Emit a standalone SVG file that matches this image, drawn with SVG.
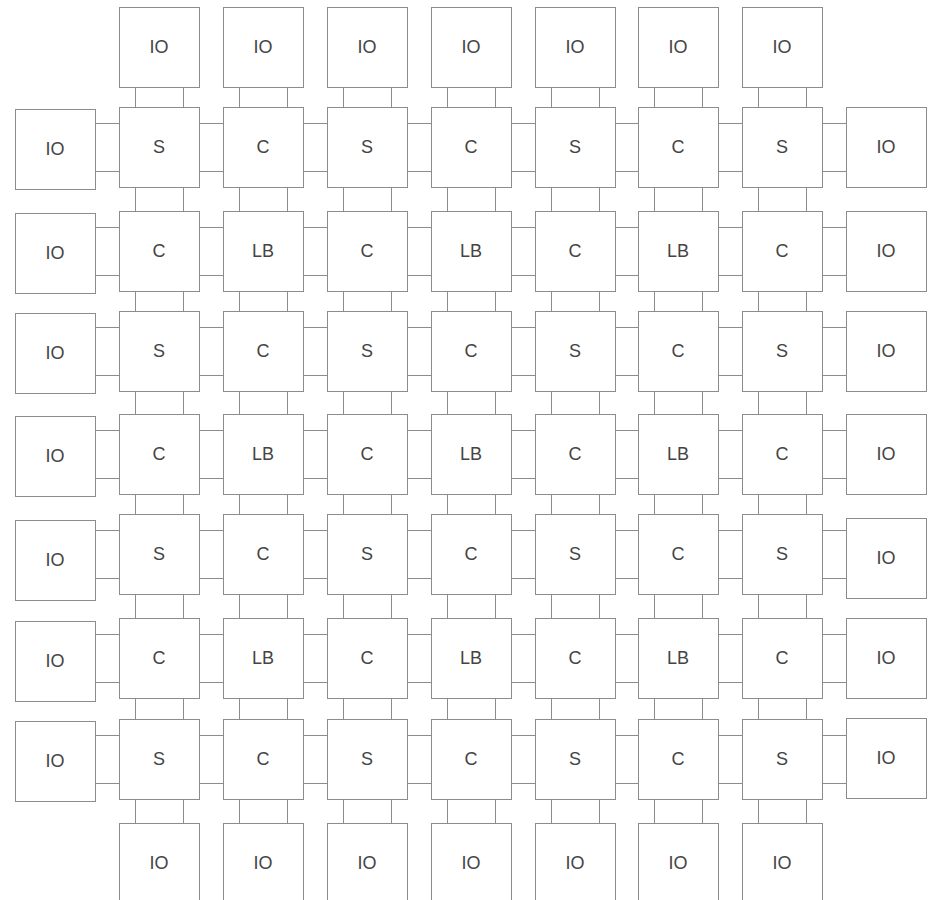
<svg xmlns="http://www.w3.org/2000/svg" width="932" height="900" viewBox="0 0 932 900">
<style>
.n rect{fill:#fff;stroke:#8c8c8c;stroke-width:1}
.n text{font-family:"Liberation Sans",Arial,Helvetica,sans-serif;font-size:18px;fill:#444;text-anchor:middle}
#connectors path{fill:none;stroke:#8c8c8c;stroke-width:1}
</style>
<rect width="932" height="900" fill="#fff"/>
<g id="connectors">
<path d="M95 123.5H119M95 171.5H119M199 123.5H223M199 171.5H223M303 123.5H327M303 171.5H327M407 123.5H431M407 171.5H431M511 123.5H535M511 171.5H535M615 123.5H638M615 171.5H638M718 123.5H742M718 171.5H742M822 123.5H846M822 171.5H846"/>
<path d="M95 227.5H119M95 275.5H119M199 227.5H223M199 275.5H223M303 227.5H327M303 275.5H327M407 227.5H431M407 275.5H431M511 227.5H535M511 275.5H535M615 227.5H638M615 275.5H638M718 227.5H742M718 275.5H742M822 227.5H846M822 275.5H846"/>
<path d="M95 327.5H119M95 375.5H119M199 327.5H223M199 375.5H223M303 327.5H327M303 375.5H327M407 327.5H431M407 375.5H431M511 327.5H535M511 375.5H535M615 327.5H638M615 375.5H638M718 327.5H742M718 375.5H742M822 327.5H846M822 375.5H846"/>
<path d="M95 430.5H119M95 478.5H119M199 430.5H223M199 478.5H223M303 430.5H327M303 478.5H327M407 430.5H431M407 478.5H431M511 430.5H535M511 478.5H535M615 430.5H638M615 478.5H638M718 430.5H742M718 478.5H742M822 430.5H846M822 478.5H846"/>
<path d="M95 530.5H119M95 578.5H119M199 530.5H223M199 578.5H223M303 530.5H327M303 578.5H327M407 530.5H431M407 578.5H431M511 530.5H535M511 578.5H535M615 530.5H638M615 578.5H638M718 530.5H742M718 578.5H742M822 530.5H846M822 578.5H846"/>
<path d="M95 634.5H119M95 682.5H119M199 634.5H223M199 682.5H223M303 634.5H327M303 682.5H327M407 634.5H431M407 682.5H431M511 634.5H535M511 682.5H535M615 634.5H638M615 682.5H638M718 634.5H742M718 682.5H742M822 634.5H846M822 682.5H846"/>
<path d="M95 735.5H119M95 783.5H119M199 735.5H223M199 783.5H223M303 735.5H327M303 783.5H327M407 735.5H431M407 783.5H431M511 735.5H535M511 783.5H535M615 735.5H638M615 783.5H638M718 735.5H742M718 783.5H742M822 735.5H846M822 783.5H846"/>
<path d="M135.5 87V107M183.5 87V107M135.5 187V211M183.5 187V211M135.5 291V311M183.5 291V311M135.5 391V414M183.5 391V414M135.5 494V514M183.5 494V514M135.5 594V618M183.5 594V618M135.5 698V719M183.5 698V719M135.5 799V823M183.5 799V823"/>
<path d="M239.5 87V107M287.5 87V107M239.5 187V211M287.5 187V211M239.5 291V311M287.5 291V311M239.5 391V414M287.5 391V414M239.5 494V514M287.5 494V514M239.5 594V618M287.5 594V618M239.5 698V719M287.5 698V719M239.5 799V823M287.5 799V823"/>
<path d="M343.5 87V107M391.5 87V107M343.5 187V211M391.5 187V211M343.5 291V311M391.5 291V311M343.5 391V414M391.5 391V414M343.5 494V514M391.5 494V514M343.5 594V618M391.5 594V618M343.5 698V719M391.5 698V719M343.5 799V823M391.5 799V823"/>
<path d="M447.5 87V107M495.5 87V107M447.5 187V211M495.5 187V211M447.5 291V311M495.5 291V311M447.5 391V414M495.5 391V414M447.5 494V514M495.5 494V514M447.5 594V618M495.5 594V618M447.5 698V719M495.5 698V719M447.5 799V823M495.5 799V823"/>
<path d="M551.5 87V107M599.5 87V107M551.5 187V211M599.5 187V211M551.5 291V311M599.5 291V311M551.5 391V414M599.5 391V414M551.5 494V514M599.5 494V514M551.5 594V618M599.5 594V618M551.5 698V719M599.5 698V719M551.5 799V823M599.5 799V823"/>
<path d="M654.5 87V107M702.5 87V107M654.5 187V211M702.5 187V211M654.5 291V311M702.5 291V311M654.5 391V414M702.5 391V414M654.5 494V514M702.5 494V514M654.5 594V618M702.5 594V618M654.5 698V719M702.5 698V719M654.5 799V823M702.5 799V823"/>
<path d="M758.5 87V107M806.5 87V107M758.5 187V211M806.5 187V211M758.5 291V311M806.5 291V311M758.5 391V414M806.5 391V414M758.5 494V514M806.5 494V514M758.5 594V618M806.5 594V618M758.5 698V719M806.5 698V719M758.5 799V823M806.5 799V823"/>
</g>
<g id="io-top-1" class="n"><rect x="119.5" y="7.5" width="80" height="80"/><text x="159" y="53">IO</text></g>
<g id="io-top-2" class="n"><rect x="223.5" y="7.5" width="80" height="80"/><text x="263" y="53">IO</text></g>
<g id="io-top-3" class="n"><rect x="327.5" y="7.5" width="80" height="80"/><text x="367" y="53">IO</text></g>
<g id="io-top-4" class="n"><rect x="431.5" y="7.5" width="80" height="80"/><text x="471" y="53">IO</text></g>
<g id="io-top-5" class="n"><rect x="535.5" y="7.5" width="80" height="80"/><text x="575" y="53">IO</text></g>
<g id="io-top-6" class="n"><rect x="638.5" y="7.5" width="80" height="80"/><text x="678" y="53">IO</text></g>
<g id="io-top-7" class="n"><rect x="742.5" y="7.5" width="80" height="80"/><text x="782" y="53">IO</text></g>
<g id="io-left-1" class="n"><rect x="15.5" y="109.5" width="80" height="80"/><text x="55" y="155">IO</text></g>
<g id="io-left-2" class="n"><rect x="15.5" y="213.5" width="80" height="80"/><text x="55" y="259">IO</text></g>
<g id="io-left-3" class="n"><rect x="15.5" y="313.5" width="80" height="80"/><text x="55" y="359">IO</text></g>
<g id="io-left-4" class="n"><rect x="15.5" y="416.5" width="80" height="80"/><text x="55" y="462">IO</text></g>
<g id="io-left-5" class="n"><rect x="15.5" y="520.5" width="80" height="80"/><text x="55" y="566">IO</text></g>
<g id="io-left-6" class="n"><rect x="15.5" y="621.5" width="80" height="80"/><text x="55" y="667">IO</text></g>
<g id="io-left-7" class="n"><rect x="15.5" y="721.5" width="80" height="80"/><text x="55" y="767">IO</text></g>
<g id="io-right-1" class="n"><rect x="846.5" y="107.5" width="80" height="80"/><text x="886" y="153">IO</text></g>
<g id="io-right-2" class="n"><rect x="846.5" y="211.5" width="80" height="80"/><text x="886" y="257">IO</text></g>
<g id="io-right-3" class="n"><rect x="846.5" y="311.5" width="80" height="80"/><text x="886" y="357">IO</text></g>
<g id="io-right-4" class="n"><rect x="846.5" y="414.5" width="80" height="80"/><text x="886" y="460">IO</text></g>
<g id="io-right-5" class="n"><rect x="846.5" y="518.5" width="80" height="80"/><text x="886" y="564">IO</text></g>
<g id="io-right-6" class="n"><rect x="846.5" y="618.5" width="80" height="80"/><text x="886" y="664">IO</text></g>
<g id="io-right-7" class="n"><rect x="846.5" y="718.5" width="80" height="80"/><text x="886" y="764">IO</text></g>
<g id="io-bottom-1" class="n"><rect x="119.5" y="823.5" width="80" height="80"/><text x="159" y="869">IO</text></g>
<g id="io-bottom-2" class="n"><rect x="223.5" y="823.5" width="80" height="80"/><text x="263" y="869">IO</text></g>
<g id="io-bottom-3" class="n"><rect x="327.5" y="823.5" width="80" height="80"/><text x="367" y="869">IO</text></g>
<g id="io-bottom-4" class="n"><rect x="431.5" y="823.5" width="80" height="80"/><text x="471" y="869">IO</text></g>
<g id="io-bottom-5" class="n"><rect x="535.5" y="823.5" width="80" height="80"/><text x="575" y="869">IO</text></g>
<g id="io-bottom-6" class="n"><rect x="638.5" y="823.5" width="80" height="80"/><text x="678" y="869">IO</text></g>
<g id="io-bottom-7" class="n"><rect x="742.5" y="823.5" width="80" height="80"/><text x="782" y="869">IO</text></g>
<g id="r1c1" class="n"><rect x="119.5" y="107.5" width="80" height="80"/><text x="159" y="153">S</text></g>
<g id="r1c2" class="n"><rect x="223.5" y="107.5" width="80" height="80"/><text x="263" y="153">C</text></g>
<g id="r1c3" class="n"><rect x="327.5" y="107.5" width="80" height="80"/><text x="367" y="153">S</text></g>
<g id="r1c4" class="n"><rect x="431.5" y="107.5" width="80" height="80"/><text x="471" y="153">C</text></g>
<g id="r1c5" class="n"><rect x="535.5" y="107.5" width="80" height="80"/><text x="575" y="153">S</text></g>
<g id="r1c6" class="n"><rect x="638.5" y="107.5" width="80" height="80"/><text x="678" y="153">C</text></g>
<g id="r1c7" class="n"><rect x="742.5" y="107.5" width="80" height="80"/><text x="782" y="153">S</text></g>
<g id="r2c1" class="n"><rect x="119.5" y="211.5" width="80" height="80"/><text x="159" y="257">C</text></g>
<g id="r2c2" class="n"><rect x="223.5" y="211.5" width="80" height="80"/><text x="263" y="257">LB</text></g>
<g id="r2c3" class="n"><rect x="327.5" y="211.5" width="80" height="80"/><text x="367" y="257">C</text></g>
<g id="r2c4" class="n"><rect x="431.5" y="211.5" width="80" height="80"/><text x="471" y="257">LB</text></g>
<g id="r2c5" class="n"><rect x="535.5" y="211.5" width="80" height="80"/><text x="575" y="257">C</text></g>
<g id="r2c6" class="n"><rect x="638.5" y="211.5" width="80" height="80"/><text x="678" y="257">LB</text></g>
<g id="r2c7" class="n"><rect x="742.5" y="211.5" width="80" height="80"/><text x="782" y="257">C</text></g>
<g id="r3c1" class="n"><rect x="119.5" y="311.5" width="80" height="80"/><text x="159" y="357">S</text></g>
<g id="r3c2" class="n"><rect x="223.5" y="311.5" width="80" height="80"/><text x="263" y="357">C</text></g>
<g id="r3c3" class="n"><rect x="327.5" y="311.5" width="80" height="80"/><text x="367" y="357">S</text></g>
<g id="r3c4" class="n"><rect x="431.5" y="311.5" width="80" height="80"/><text x="471" y="357">C</text></g>
<g id="r3c5" class="n"><rect x="535.5" y="311.5" width="80" height="80"/><text x="575" y="357">S</text></g>
<g id="r3c6" class="n"><rect x="638.5" y="311.5" width="80" height="80"/><text x="678" y="357">C</text></g>
<g id="r3c7" class="n"><rect x="742.5" y="311.5" width="80" height="80"/><text x="782" y="357">S</text></g>
<g id="r4c1" class="n"><rect x="119.5" y="414.5" width="80" height="80"/><text x="159" y="460">C</text></g>
<g id="r4c2" class="n"><rect x="223.5" y="414.5" width="80" height="80"/><text x="263" y="460">LB</text></g>
<g id="r4c3" class="n"><rect x="327.5" y="414.5" width="80" height="80"/><text x="367" y="460">C</text></g>
<g id="r4c4" class="n"><rect x="431.5" y="414.5" width="80" height="80"/><text x="471" y="460">LB</text></g>
<g id="r4c5" class="n"><rect x="535.5" y="414.5" width="80" height="80"/><text x="575" y="460">C</text></g>
<g id="r4c6" class="n"><rect x="638.5" y="414.5" width="80" height="80"/><text x="678" y="460">LB</text></g>
<g id="r4c7" class="n"><rect x="742.5" y="414.5" width="80" height="80"/><text x="782" y="460">C</text></g>
<g id="r5c1" class="n"><rect x="119.5" y="514.5" width="80" height="80"/><text x="159" y="560">S</text></g>
<g id="r5c2" class="n"><rect x="223.5" y="514.5" width="80" height="80"/><text x="263" y="560">C</text></g>
<g id="r5c3" class="n"><rect x="327.5" y="514.5" width="80" height="80"/><text x="367" y="560">S</text></g>
<g id="r5c4" class="n"><rect x="431.5" y="514.5" width="80" height="80"/><text x="471" y="560">C</text></g>
<g id="r5c5" class="n"><rect x="535.5" y="514.5" width="80" height="80"/><text x="575" y="560">S</text></g>
<g id="r5c6" class="n"><rect x="638.5" y="514.5" width="80" height="80"/><text x="678" y="560">C</text></g>
<g id="r5c7" class="n"><rect x="742.5" y="514.5" width="80" height="80"/><text x="782" y="560">S</text></g>
<g id="r6c1" class="n"><rect x="119.5" y="618.5" width="80" height="80"/><text x="159" y="664">C</text></g>
<g id="r6c2" class="n"><rect x="223.5" y="618.5" width="80" height="80"/><text x="263" y="664">LB</text></g>
<g id="r6c3" class="n"><rect x="327.5" y="618.5" width="80" height="80"/><text x="367" y="664">C</text></g>
<g id="r6c4" class="n"><rect x="431.5" y="618.5" width="80" height="80"/><text x="471" y="664">LB</text></g>
<g id="r6c5" class="n"><rect x="535.5" y="618.5" width="80" height="80"/><text x="575" y="664">C</text></g>
<g id="r6c6" class="n"><rect x="638.5" y="618.5" width="80" height="80"/><text x="678" y="664">LB</text></g>
<g id="r6c7" class="n"><rect x="742.5" y="618.5" width="80" height="80"/><text x="782" y="664">C</text></g>
<g id="r7c1" class="n"><rect x="119.5" y="719.5" width="80" height="80"/><text x="159" y="765">S</text></g>
<g id="r7c2" class="n"><rect x="223.5" y="719.5" width="80" height="80"/><text x="263" y="765">C</text></g>
<g id="r7c3" class="n"><rect x="327.5" y="719.5" width="80" height="80"/><text x="367" y="765">S</text></g>
<g id="r7c4" class="n"><rect x="431.5" y="719.5" width="80" height="80"/><text x="471" y="765">C</text></g>
<g id="r7c5" class="n"><rect x="535.5" y="719.5" width="80" height="80"/><text x="575" y="765">S</text></g>
<g id="r7c6" class="n"><rect x="638.5" y="719.5" width="80" height="80"/><text x="678" y="765">C</text></g>
<g id="r7c7" class="n"><rect x="742.5" y="719.5" width="80" height="80"/><text x="782" y="765">S</text></g>
</svg>
